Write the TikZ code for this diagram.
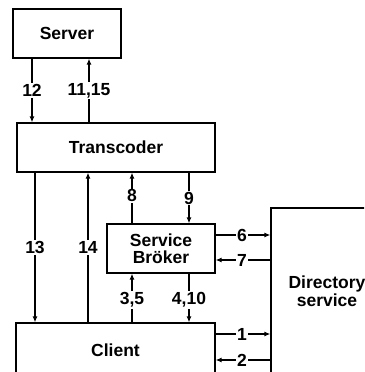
\documentclass[tikz,border=0pt]{standalone}
\usepackage{fontspec}
\setmainfont{Liberation Sans}
\usetikzlibrary{arrows.meta}
\tikzset{
  box/.style={draw, line width=1.2pt, rectangle, inner sep=0pt, align=center,
    font=\bfseries\fontsize{17.5}{17.5}\selectfont},
  arr/.style={line width=1.2pt, -{Latex[length=6pt,width=5pt]}},
  lbl/.style={fill=white, inner sep=1.2pt, font=\bfseries\fontsize{17.5}{18}\selectfont}
}
\begin{document}
\begin{tikzpicture}[x=1pt,y=-1pt]
\useasboundingbox (0,0) rectangle (364,372);
\clip (0,0) rectangle (364,372);
\fill[white] (0,0) rectangle (364,372);

\node[box, minimum width=108pt, minimum height=49pt] (server) at (67,33.5) {Server};
\node[box, minimum width=198pt, minimum height=49pt] (trans) at (116,147.5) {Transcoder};
\node[box, minimum width=108pt, minimum height=49pt] (broker) at (161,248.5) {Service\\Bröker};
\node[box, minimum width=199pt, minimum height=54pt] (client) at (115.5,350) {Client};
\node[box, minimum width=112pt, minimum height=166pt] (dir) at (327,291) {Directory\\service};

\coordinate (c12) at (32,0);
\coordinate (c11) at (89,0);
\coordinate (c13) at (35,0);
\coordinate (c14) at (88,0);
\coordinate (c8) at (132,0);
\coordinate (c9) at (189,0);
\coordinate (r6) at (0,235);
\coordinate (r7) at (0,260);
\coordinate (r1) at (0,334);
\coordinate (r2) at (0,360);

\draw[arr] (c12 |- server.south) -- node[lbl] {12} (c12 |- trans.north);
\draw[arr] (c11 |- trans.north) -- node[lbl] {11,15} (c11 |- server.south);
\draw[arr] (c13 |- trans.south) -- node[lbl] {13} (c13 |- client.north);
\draw[arr] (c14 |- client.north) -- node[lbl] {14} (c14 |- trans.south);
\draw[arr] (c8 |- broker.north) -- node[lbl, pos=0.54] {8} (c8 |- trans.south);
\draw[arr] (c9 |- trans.south) -- node[lbl] {9} (c9 |- broker.north);
\draw[arr] (c8 |- client.north) -- node[lbl, pos=0.46] {3,5} (c8 |- broker.south);
\draw[arr] (c9 |- broker.south) -- node[lbl, pos=0.54] {4,10} (c9 |- client.north);
\draw[arr] (broker.east |- r6) -- node[lbl, pos=0.48] {6} (dir.west |- r6);
\draw[arr] (dir.west |- r7) -- node[lbl, pos=0.52] {7} (broker.east |- r7);
\draw[arr] (client.east |- r1) -- node[lbl, pos=0.48] {1} (dir.west |- r1);
\draw[arr] (dir.west |- r2) -- node[lbl, pos=0.52] {2} (client.east |- r2);
\end{tikzpicture}
\end{document}
